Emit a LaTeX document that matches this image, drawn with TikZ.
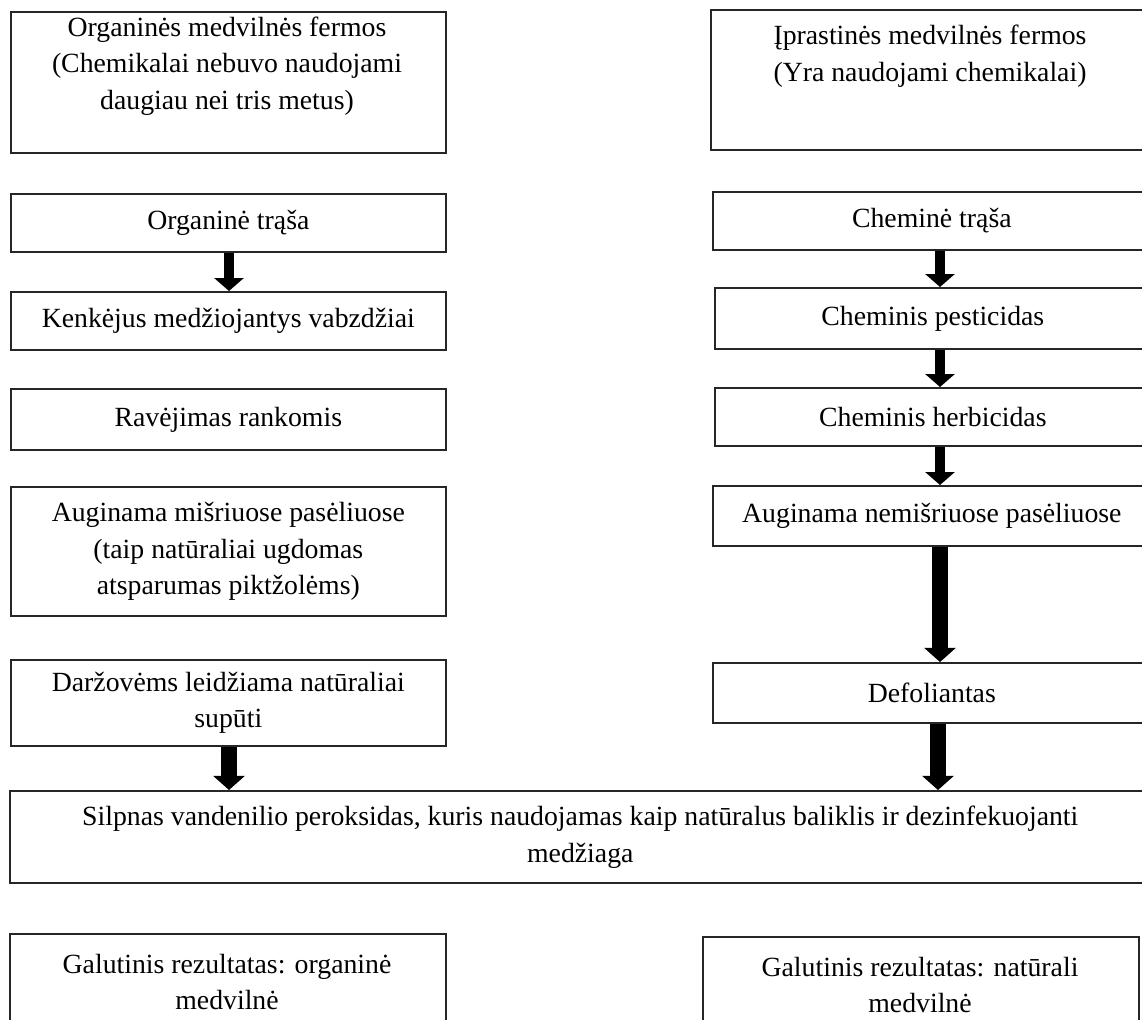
\documentclass[tikz,border=0pt]{standalone}
\usepackage{fontspec}
\setmainfont{Liberation Serif}
\usepackage{tikz}
\usetikzlibrary{arrows.meta,positioning}
\tikzset{box/.style={draw=black!85,line width=1pt,rectangle,anchor=north west,inner sep=0pt,align=center},
         txt/.style={align=center,inner sep=0pt},
         arr/.style={line width=5.7pt,-{Triangle[width=16.5pt,length=7.4pt]}},
         bigarr/.style={line width=9pt,-{Triangle[width=17.5pt,length=8pt]}}}
\begin{document}
\begin{tikzpicture}[x=0.02cm,y=-0.02cm,font=\fontsize{15.8}{20.9}\selectfont]
\useasboundingbox[fill=white](0,0)rectangle(1142,1019);
\coordinate(lx)at(229,0);\coordinate(rx)at(940,0);
% kairysis stulpelis
\node[box,minimum width=8.7cm,minimum height=2.82cm](l1)at(10,11){};
\node[txt]at(227,66){Organinės medvilnės fermos\\(Chemikalai nebuvo naudojami\\daugiau nei tris metus)};
\node[box,minimum width=8.7cm,minimum height=1.16cm](l2)at(10,193){Organinė trąša};
\node[box,minimum width=8.7cm,minimum height=1.16cm](l3)at(10,291){Kenkėjus medžiojantys vabzdžiai};
\node[box,minimum width=8.7cm,minimum height=1.22cm](l4)at(10,388){Ravėjimas rankomis};
\node[box,minimum width=8.7cm,minimum height=2.58cm](l5)at(10,486){Auginama mišriuose pasėliuose\\(taip natūraliai ugdomas\\atsparumas piktžolėms)};
\node[box,minimum width=8.7cm,minimum height=1.72cm](l6)at(10,659){Daržovėms leidžiama natūraliai\\supūti};
% dešinysis stulpelis
\node[box,minimum width=8.8cm,minimum height=2.8cm](r1)at(710,9){};
\node[txt]at(930,56){Įprastinės medvilnės fermos\\(Yra naudojami chemikalai)};
\node[box,minimum width=8.76cm,minimum height=1.16cm](r2)at(712,191){Cheminė trąša};
\node[box,minimum width=8.72cm,minimum height=1.22cm](r3)at(714,287){Cheminis pesticidas};
\node[box,minimum width=8.72cm,minimum height=1.16cm](r4)at(714,387){Cheminis herbicidas};
\node[box,minimum width=8.76cm,minimum height=1.2cm](r5)at(712,485){Auginama nemišriuose pasėliuose};
\node[box,minimum width=8.76cm,minimum height=1.2cm](r6)at(712,662){Defoliantas};
% bendra dalis
\node[box,minimum width=22.82cm,minimum height=1.84cm](bal)at(9,790){Silpnas vandenilio peroksidas, kuris naudojamas kaip natūralus baliklis ir dezinfekuojanti\\medžiaga};
\node[box,minimum width=8.72cm,minimum height=2.4cm](g1)at(9,933){};
\node[txt]at(227,982){Galutinis rezultatas: organinė\\medvilnė};
\node[box,minimum width=8.72cm,minimum height=2.4cm](g2)at(702,936){};
\node[txt]at(920,985){Galutinis rezultatas: natūrali\\medvilnė};
% rodyklės
\draw[arr](l2.south-|lx)--(l3.north-|lx);
\foreach \a/\b in {r2/r3,r3/r4,r4/r5}
  \draw[arr](\a.south-|rx)--(\b.north-|rx);
\draw[bigarr](r5.south-|rx)--(r6.north-|rx);
\draw[bigarr]([xshift=-0.04cm]r6.south-|rx)--([xshift=-0.04cm]bal.north-|rx);
\draw[bigarr](l6.south-|lx)--(bal.north-|lx);
\end{tikzpicture}
\end{document}
